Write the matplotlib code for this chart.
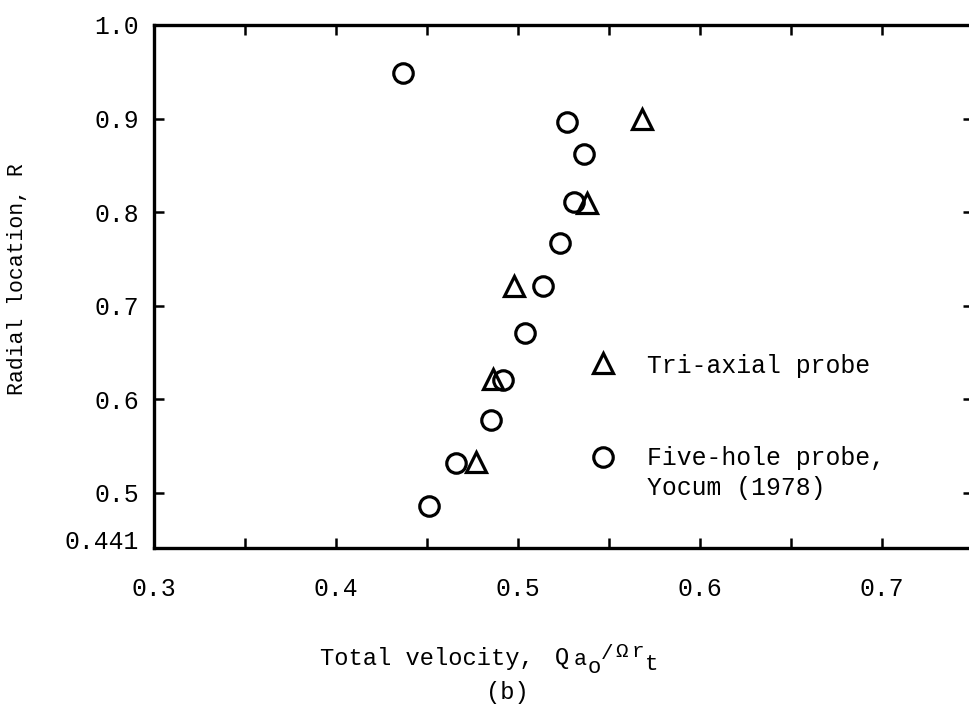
import matplotlib
matplotlib.use("Agg")
import matplotlib.pyplot as plt
import matplotlib.transforms as mtransforms

plt.rcParams['font.family'] = ['Liberation Mono', 'DejaVu Sans Mono']

# Five-hole probe, Yocum (1978)
five_hole_v = [0.437, 0.527, 0.536, 0.531, 0.523, 0.514, 0.504, 0.492, 0.485, 0.466, 0.451]
five_hole_r = [0.949, 0.896, 0.862, 0.811, 0.767, 0.721, 0.671, 0.620, 0.578, 0.532, 0.486]

# Tri-axial probe
tri_axial_v = [0.568, 0.538, 0.498, 0.486, 0.477]
tri_axial_r = [0.899, 0.810, 0.721, 0.621, 0.533]

x_major = [0.3, 0.4, 0.5, 0.6, 0.7]
x_minor = [0.35, 0.45, 0.55, 0.65]
y_ticks = [0.441, 0.5, 0.6, 0.7, 0.8, 0.9, 1.0]
y_tick_labels = ["0.441", "0.5", "0.6", "0.7", "0.8", "0.9", "1.0"]

FS = 17.8
W, H = 969, 707
fig = plt.figure(figsize=(W / 100, H / 100), dpi=100)
ax = fig.add_axes([154 / W, 1 - 547.7 / H, (973 - 154) / W, (547.7 - 25) / H])

circ = dict(linestyle='none', marker='o', ms=14, mfc='none', mec='black', mew=2.3)
tri = dict(linestyle='none', marker='^', ms=15, mfc='none', mec='black', mew=2.3)

ax.plot(five_hole_v, five_hole_r, **circ)
ax.plot(tri_axial_v, tri_axial_r, **tri)

ax.set_xlim(0.3, 0.75)
ax.set_ylim(0.441, 1.0)

for s in ax.spines.values():
    s.set_linewidth(2.4)

ax.set_xticks(x_major)
ax.set_xticklabels([f"{v:.1f}" for v in x_major])
ax.set_xticks(x_minor, minor=True)
ax.set_yticks(y_ticks)
ax.set_yticklabels(y_tick_labels)

ax.tick_params(axis='both', which='both', direction='in', length=7, width=1.8,
               top=True, right=True, labelsize=FS, color='black')
ax.tick_params(axis='x', which='major', pad=21)
ax.tick_params(axis='y', which='major', pad=11)

# the 0.441 bottom label sits a little above the axis line
lbl = ax.get_yticklabels()[0]
lbl.set_transform(lbl.get_transform() + mtransforms.ScaledTranslation(0, 8 / 100, fig.dpi_scale_trans))
# no tick marks at the axis corners
for t in (ax.yaxis.get_major_ticks()[0], ax.yaxis.get_major_ticks()[-1],
          ax.xaxis.get_major_ticks()[0]):
    t.tick1line.set_visible(False)
    t.tick2line.set_visible(False)

# key
ax.plot([0.548], [0.3528], transform=ax.transAxes, clip_on=False, **tri)
ax.plot([0.548], [0.174], transform=ax.transAxes, clip_on=False, **circ)
ax.text(0.6016, 0.3337, "Tri-axial probe", transform=ax.transAxes,
        fontsize=FS, va='baseline', ha='left')
ax.text(0.6016, 0.1582, "Five-hole probe,", transform=ax.transAxes,
        fontsize=FS, va='baseline', ha='left')
ax.text(0.6016, 0.1008, "Yocum (1978)", transform=ax.transAxes,
        fontsize=FS, va='baseline', ha='left')

# axis titles
fig.text(18 / W, 1 - 279 / H, "Radial location, R", rotation=90,
         fontsize=15.5, ha='center', va='center')


def px_text(x, y, s, size, ha='center'):
    fig.text(x / W, 1 - y / H, s, fontsize=size, ha=ha, va='baseline')


XS = 17.1
px_text(320, 665, "Total velocity,", XS, ha='left')
px_text(562, 664, "Q", XS)
px_text(580, 665, "a", 15.5)
px_text(594, 673, "o", 16)
px_text(607, 659, "/", 15)
px_text(622, 657, "\u03a9", 15)
px_text(638, 657, "r", 15)
px_text(652, 670, "t", 16)
fig.text(507 / W, 1 - 693 / H, "(b)", fontsize=XS, ha='center', va='center')

fig.savefig("out.png", dpi=100)
